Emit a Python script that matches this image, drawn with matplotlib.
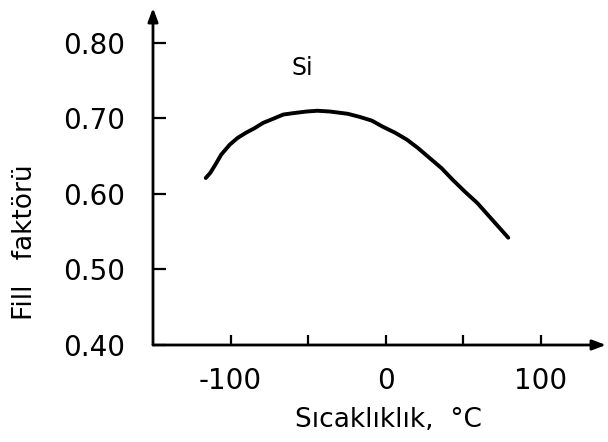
import numpy as np
import matplotlib.pyplot as plt

# curve (temperature in C, fill factor)
temp = [-116, -113, -110, -106, -100.6, -95.5, -90, -84.5, -79, -73, -66, -59, -51, -44, -36,
        -24.5, -17, -9, -2, 6, 13.5, 20.6, 28, 36, 43, 51, 59, 71.6, 79]
ff = [0.621, 0.628, 0.638, 0.652, 0.665, 0.674, 0.681, 0.687, 0.694, 0.699, 0.705, 0.707, 0.709, 0.710, 0.709,
      0.706, 0.702, 0.697, 0.689, 0.681, 0.672, 0.661, 0.648, 0.634, 0.619, 0.603, 0.588, 0.559, 0.542]

xticks = [-100, -50, 0, 50, 100]
xlabels = ['-100', '', '0', '', '100']
yticks = [0.40, 0.50, 0.60, 0.70, 0.80]
ylabels = ['0.40', '0.50', '0.60', '0.70', '0.80']

plt.rcParams['font.family'] = 'DejaVu Sans'
fig = plt.figure(figsize=(6.08, 4.42), dpi=100)
ax = fig.add_axes([153/608, 97/442, (606-153)/608, (345-8)/442])

ax.plot(temp, ff, color='black', lw=2.8, solid_capstyle='round', solid_joinstyle='round')
ax.text(-54, 0.767, 'Si', fontsize=17, ha='center', va='center')

ax.set_xlim(-150, 142)
ax.set_ylim(0.40, 0.846)
for s in ax.spines.values():
    s.set_visible(False)

# axes drawn as arrows
ax.annotate('', xy=(1, 0), xytext=(0, 0), xycoords='axes fraction',
            arrowprops=dict(arrowstyle='-|>,head_length=0.8,head_width=0.3', lw=2, color='black', shrinkA=0, shrinkB=0))
ax.annotate('', xy=(0, 1), xytext=(0, 0), xycoords='axes fraction',
            arrowprops=dict(arrowstyle='-|>,head_length=0.8,head_width=0.3', lw=2, color='black', shrinkA=0, shrinkB=0))

ax.set_xticks(xticks)
ax.set_xticklabels(xlabels)
ax.set_yticks(yticks)
ax.set_yticklabels(ylabels)
ax.tick_params(axis='x', direction='in', length=7, width=1.6, pad=16, labelsize=20)
ax.tick_params(axis='y', direction='in', length=9, width=1.6, pad=20, labelsize=20)

ax.set_xlabel('S\u0131cakl\u0131kl\u0131k,  \u00b0C', fontsize=19, va='center')
ax.set_ylabel('Fill   fakt\u00f6r\u00fc', fontsize=19, va='center')
ax.xaxis.set_label_coords(0.519, -0.223)
ax.yaxis.set_label_coords(-0.283, 0.306)

fig.savefig('out.png', dpi=100)
